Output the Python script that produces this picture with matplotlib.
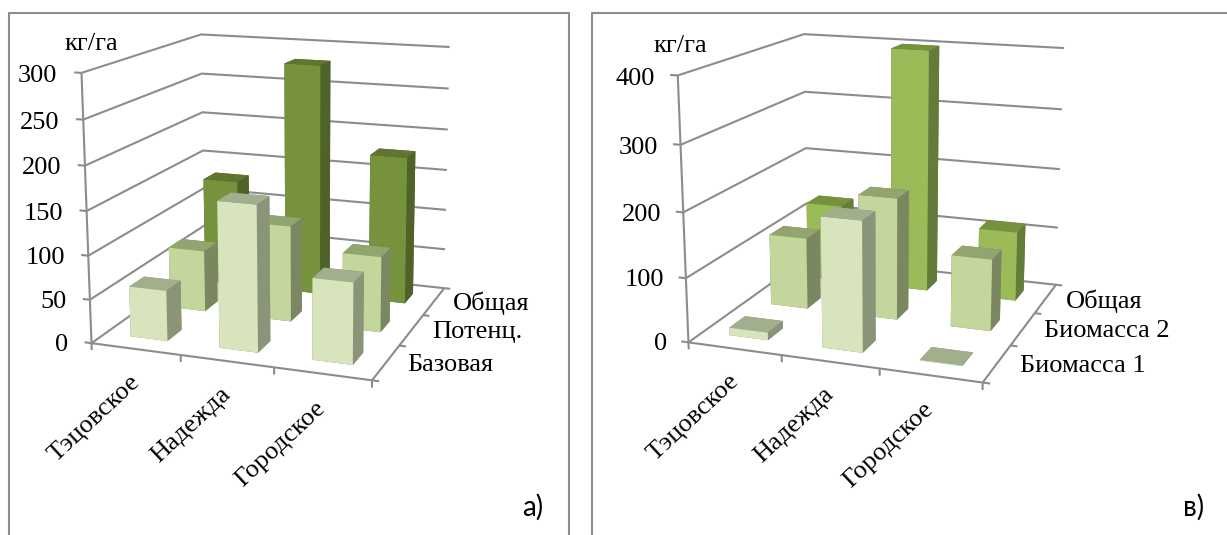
import numpy as np
import matplotlib
matplotlib.use("Agg")
import matplotlib.pyplot as plt
from matplotlib.lines import Line2D
from mpl_toolkits.mplot3d import proj3d

plt.rcParams["font.family"] = ["Liberation Serif", "DejaVu Serif"]

W, H = 1227, 535

# values, one row per series (front to back)
cats = ["Тэцовское", "Надежда", "Городское"]

series_a = ["Базовая", "Потенц.", "Общая"]
base_a = [58, 165, 91]
poten_a = [73, 113, 88]
total_a = [131, 281, 178]
ticks_a = [0, 50, 100, 150, 200, 250, 300]

series_b = ["Биомасса 1", "Биомасса 2", "Общая"]
bio1_b = [12, 200, 1]
bio2_b = [116, 195, 114]
total_b = [130, 400, 115]
ticks_b = [0, 100, 200, 300, 400]

colors_a = [("#D7E4BC", "#A1AF8D", "#8A9478"),
            ("#C3D69B", "#92A56F", "#7B8760"),
            ("#76923C", "#5F7530", "#4F6228")]
colors_b = [("#D7E4BC", "#A1AF8D", "#8A9478"),
            ("#C3D69B", "#92A56F", "#7B8760"),
            ("#9BBB59", "#76923C", "#647C3A")]
GRID = "#8C8C8C"
BAR_W, BAR_D = 0.42, 0.36


def camera(zmax, corners):
    """Fit the chart's perspective from its box corners (pixels), as a 4x4 for mplot3d."""
    A = []
    for (i, j, k), (u, v) in corners.items():
        X = [i, j, k / zmax, 1]
        # pixels to -1..1, mplot3d drops line points outside that range
        u, v = 2 * u / W - 1, 1 - 2 * v / H
        A.append(X + [0, 0, 0, 0] + [-u * c for c in X])
        A.append([0, 0, 0, 0] + X + [-v * c for c in X])
    P = np.linalg.svd(np.array(A))[2][-1].reshape(3, 4)
    P = P / P[2, 3]
    P[:, 2] /= zmax
    return np.array([P[0], P[1], [0, 0, 0, -0.5], P[2]])


def draw_panel(M, zmax, ticks, rows, series, colors, tick_z, lab_x, kg_x):
    ax = fig.add_axes([0, 0, 1, 1], projection="3d", computed_zorder=False)
    ax.set_axis_off()
    ax.patch.set_alpha(0)
    ax.set_xticks([])
    ax.set_yticks([])
    ax.set_zticks([])
    ax.apply_aspect = lambda position=None: None
    ax.get_proj = lambda: M
    ax.viewLim.intervalx = (-1, 1)
    ax.viewLim.intervaly = (-1, 1)

    def ln(xs, ys, zs):
        ax.plot(xs, ys, zs, color=GRID, lw=1.5, zorder=1, solid_capstyle="butt")

    def label(x, y, z, s, **kw):
        u, v, _ = proj3d.proj_transform(x, y, z, M)
        ax.text2D(u, v, s, transform=ax.transData, fontsize=19, **kw)

    # walls and floor
    for t in ticks:
        ln([0, 0, 3], [0, 3, 3], [t, t, t])
        ln([0, -0.08], [0, 0], [t, t])
        label(lab_x, 0, t - zmax * 0.018, str(t), ha="right", va="center")
    ln([0, 0], [0, 0], [0, zmax])
    ln([0, 3, 3], [0, 0, 3], [0, 0, 0])
    for i in range(4):
        ln([i, i], [0, 0], [0, -tick_z])
    for j in range(4):
        ln([3, 3.07], [j, j], [0, 0])

    # bars, back to front
    order = 10
    for j in reversed(range(3)):
        for i in range(3):
            front, top, side = colors[j]
            ax.bar3d(i + (1 - BAR_W) / 2, j + (1 - BAR_D) / 2, 0, BAR_W, BAR_D, rows[j][i],
                     color=[side, top, front, side, side, side], shade=False,
                     zorder=order, linewidth=0.3)
            order += 1

    for j, name in enumerate(series):
        label(3.22, j + 0.5, 0, name, ha="left", va="center")
    for i, name in enumerate(cats):
        label(i + 0.5, 0, -zmax * 0.115, name, ha="right", va="center",
              rotation=43, rotation_mode="anchor")
    label(kg_x, 0, zmax * 1.06, "кг/га", ha="left", va="bottom")
    return ax


fig = plt.figure(figsize=(W / 100, H / 100), dpi=100)

top = 1 - 13 / H
fig.add_artist(Line2D([9 / W, 9 / W, 569 / W, 569 / W], [0, top, top, 0], color=GRID, lw=1.5))
fig.add_artist(Line2D([592 / W, 592 / W, 1], [0, top, top], color=GRID, lw=1.5))

corners_a = {(0, 0, 0): (92, 342.7), (0, 0, 300): (82.3, 72.7), (0, 3, 300): (200, 34.3),
             (3, 3, 300): (450, 47.3), (3, 0, 0): (370.7, 381), (3, 3, 0): (445, 287.3),
             (0, 3, 0): (205, 263)}
corners_b = {(0, 0, 0): (688.3, 342.7), (0, 0, 400): (678.3, 75.3), (0, 3, 400): (803.3, 34.3),
             (3, 3, 400): (1064.3, 48), (3, 0, 0): (982.3, 382.3), (3, 3, 0): (1056, 285),
             (0, 3, 0): (808, 257)}

draw_panel(camera(300, corners_a), 300, ticks_a, [base_a, poten_a, total_a],
           series_a, colors_a, 8, -0.27, -0.18)
draw_panel(camera(400, corners_b), 400, ticks_b, [bio1_b, bio2_b, total_b],
           series_b, colors_b, 11, -0.24, -0.25)

fig.text(532.5 / W, 1 - 507 / H, "а)", family="Lato", fontsize=20, ha="center", va="center")
fig.text(1194 / W, 1 - 507 / H, "в)", family="Lato", fontsize=20, ha="center", va="center")

fig.savefig("out.png", dpi=100)
